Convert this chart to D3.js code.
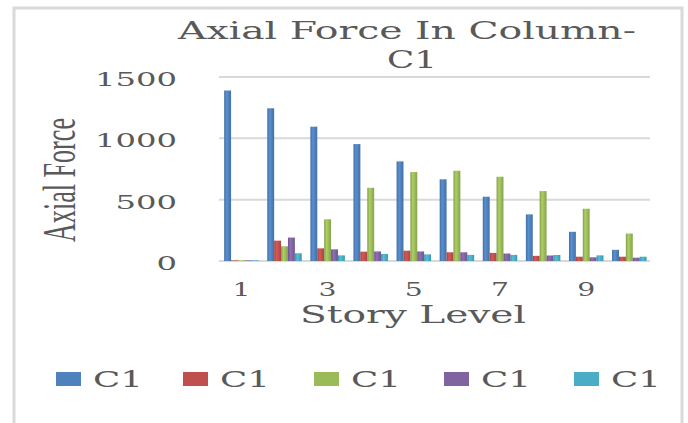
<!DOCTYPE html>
<html>
<head>
<meta charset="utf-8">
<script src="https://cdn.jsdelivr.net/npm/d3@7"></script>
<style>
  body { margin: 0; background: #fff; }
  svg { display: block; }
  text { fill: #595959; font-family: "DejaVu Serif", serif; }
</style>
</head>
<body>
<svg id="chart"></svg>
<script>
// story levels and the five series (all labelled C1 in the legend)
const stories = [1, 2, 3, 4, 5, 6, 7, 8, 9, 10];
const tickStories = [1, 3, 5, 7, 9];
const seriesNames = ["C1", "C1", "C1", "C1", "C1"];
const blueVals = [1390, 1245, 1095, 953, 812, 666, 524, 380, 238, 91];
const redVals = [5, 166, 103, 76, 84, 71, 66, 42, 35, 35];
const greenVals = [5, 120, 340, 597, 725, 736, 687, 570, 426, 224];
const purpleVals = [5, 191, 95, 78, 78, 71, 61, 45, 30, 27];
const cyanVals = [5, 63, 46, 57, 54, 50, 50, 49, 46, 35];
const yTicks = [0, 500, 1000, 1500];

const colors = ["#4f81bd", "#c0504d", "#9bbb59", "#8064a2", "#4bacc6"];
const allSeries = [blueVals, redVals, greenVals, purpleVals, cyanVals];

const W = 688, H = 423;
const svg = d3.select("#chart").attr("width", W).attr("height", H);

// chart area border (bottom edge is cut off in the picture)
svg.append("rect")
  .attr("x", 14).attr("y", 8).attr("width", 668).attr("height", 430)
  .attr("fill", "none").attr("stroke", "#d9d9d9").attr("stroke-width", 3);

const x = d3.scaleBand().domain(stories).range([219, 650])
  .paddingInner(0.2).paddingOuter(0.1).align(0.6);
const x1 = d3.scaleBand().domain(d3.range(5)).range([0, x.bandwidth()]);
const y = d3.scaleLinear().domain([0, 1500]).range([261, 77]);

// gradients to mimic the shaded excel bars
const defs = svg.append("defs");
colors.forEach((c, i) => {
  const g = defs.append("linearGradient").attr("id", "g" + i)
    .attr("x1", 0).attr("x2", 1).attr("y1", 0).attr("y2", 0);
  g.append("stop").attr("offset", 0).attr("stop-color", d3.color(c).darker(0.5));
  g.append("stop").attr("offset", 0.35).attr("stop-color", d3.color(c).brighter(0.3));
  g.append("stop").attr("offset", 1).attr("stop-color", d3.color(c).darker(0.4));
});

// gridlines
svg.append("g").selectAll("line").data(yTicks).join("line")
  .attr("x1", 219).attr("x2", 650)
  .attr("y1", d => y(d)).attr("y2", d => y(d))
  .attr("stroke", "#d9d9d9").attr("stroke-width", 2);

// y tick labels
svg.append("g").selectAll("text").data(yTicks).join("text")
  .attr("x", 177).attr("y", d => y(d) + 9)
  .attr("text-anchor", "end")
  .attr("font-size", 18)
  .attr("textLength", d => String(d).length * 20.5)
  .attr("lengthAdjust", "spacingAndGlyphs")
  .text(d => d);

// bars
allSeries.forEach((vals, si) => {
  svg.append("g").selectAll("rect").data(stories).join("rect")
    .attr("x", d => x(d) + x1(si))
    .attr("width", x1.bandwidth())
    .attr("y", (d, i) => y(vals[i]))
    .attr("height", (d, i) => y(0) - y(vals[i]))
    .attr("fill", `url(#g${si})`);
});

// x tick labels
svg.append("g").selectAll("text").data(tickStories).join("text")
  .attr("x", d => x(d) + x.bandwidth() / 2)
  .attr("y", 296)
  .attr("text-anchor", "middle")
  .attr("font-size", 18)
  .attr("textLength", 18)
  .attr("lengthAdjust", "spacingAndGlyphs")
  .text(d => d);

// title
svg.append("text").attr("x", 178).attr("y", 39)
  .attr("font-size", 25).attr("textLength", 458)
  .attr("lengthAdjust", "spacingAndGlyphs")
  .text("Axial Force In Column-");
svg.append("text").attr("x", 387).attr("y", 68)
  .attr("font-size", 25).attr("textLength", 50)
  .attr("lengthAdjust", "spacingAndGlyphs")
  .text("C1");

// axis titles
svg.append("text").attr("x", 300).attr("y", 323)
  .attr("font-size", 24).attr("textLength", 226)
  .attr("lengthAdjust", "spacingAndGlyphs")
  .text("Story Level");

svg.append("text")
  .attr("transform", "translate(75,180) rotate(-90) scale(1,1.75)")
  .attr("text-anchor", "middle")
  .style("font-family", "'Liberation Serif', serif")
  .attr("font-size", 26).attr("textLength", 124)
  .attr("lengthAdjust", "spacingAndGlyphs")
  .text("Axial Force");

// legend
const legendX = [56, 183, 314, 444, 574];
const legend = svg.append("g").selectAll("g").data(seriesNames).join("g")
  .attr("transform", (d, i) => `translate(${legendX[i]},372)`);
legend.append("rect").attr("width", 25).attr("height", 14)
  .attr("fill", (d, i) => colors[i]);
legend.append("text").attr("x", 37).attr("y", 15)
  .attr("font-size", 22).attr("textLength", 50)
  .attr("lengthAdjust", "spacingAndGlyphs")
  .text(d => d);
</script>
</body>
</html>
